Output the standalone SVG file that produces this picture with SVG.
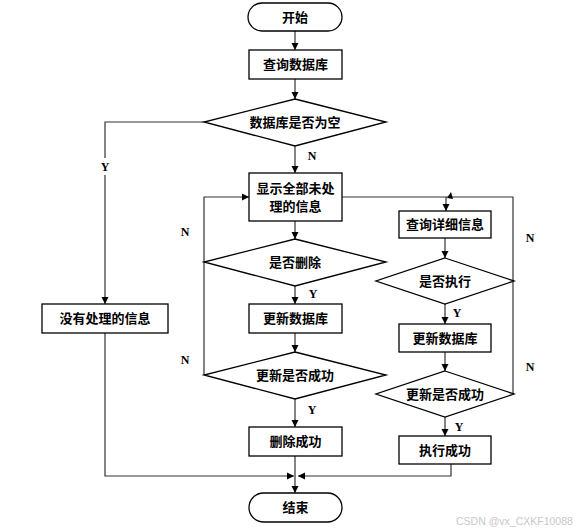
<svg xmlns="http://www.w3.org/2000/svg" width="575" height="532" viewBox="0 0 575 532">
<defs>
<style>
.box{fill:#fff;stroke:#000;stroke-width:1.3}
.t{font-family:"Liberation Serif","Noto Sans CJK SC",serif;font-size:13px;font-weight:bold;fill:#000;text-anchor:middle;dominant-baseline:central}
.lb{font-family:"Liberation Serif","Noto Sans CJK SC",serif;font-size:12px;font-weight:bold;fill:#000;text-anchor:middle;dominant-baseline:central}
.c{fill:none;stroke:#333;stroke-width:1.2}
.wm{font-family:"Liberation Sans",sans-serif;font-size:10.5px;fill:#c8c8c8}
</style>
<marker id="a" markerWidth="8" markerHeight="8" refX="7" refY="4" orient="auto" markerUnits="userSpaceOnUse">
<path d="M0,0.5 L7,4 L0,7.5 Z" fill="#000"/>
</marker>
</defs>
<rect width="575" height="532" fill="#fff"/>

<g id="connectors">
<path class="c" d="M295,31 V50" marker-end="url(#a)"/>
<path class="c" d="M295,79 V99" marker-end="url(#a)"/>
<path class="c" d="M295,146 V173" marker-end="url(#a)"/>
<path class="c" d="M204,122 H105 V158"/>
<path class="c" d="M105,175 V304" marker-end="url(#a)"/>
<path class="c" d="M105,333 V476 H294" marker-end="url(#a)"/>
<path class="c" d="M295,221 V239" marker-end="url(#a)"/>
<path class="c" d="M295,286 V304" marker-end="url(#a)"/>
<path class="c" d="M295,333 V352" marker-end="url(#a)"/>
<path class="c" d="M295,399 V427" marker-end="url(#a)"/>
<path class="c" d="M295,456 V493" marker-end="url(#a)"/>
<path class="c" d="M204,375 V197 H249" marker-end="url(#a)"/>
<path class="c" d="M342,197 H513 V394"/>
<path class="c" d="M446,197 V211" marker-end="url(#a)"/>
<path d="M447,198 L451,192 L453,199 Z" fill="#000"/>
<path class="c" d="M445,238 V258" marker-end="url(#a)"/>
<path class="c" d="M445,304 V324" marker-end="url(#a)"/>
<path class="c" d="M445,352 V371" marker-end="url(#a)"/>
<path class="c" d="M445,417 V436" marker-end="url(#a)"/>
<path class="c" d="M451,464 V476 H298" marker-end="url(#a)"/>
<text class="lb" x="312" y="156">N</text>
<text class="lb" x="105" y="167">Y</text>
<text class="lb" x="313" y="294">Y</text>
<text class="lb" x="312" y="410">Y</text>
<text class="lb" x="185" y="232">N</text>
<text class="lb" x="185" y="360">N</text>
<text class="lb" x="457" y="313">Y</text>
<text class="lb" x="459" y="427">Y</text>
<text class="lb" x="530" y="238">N</text>
<text class="lb" x="530" y="367">N</text>
</g>

<g id="start"><rect class="box" x="248" y="3" width="94" height="28" rx="14"/><text class="t" x="295" y="17">开始</text></g>
<g id="query"><rect class="box" x="249" y="50" width="93" height="29"/><text class="t" x="295.5" y="64.5">查询数据库</text></g>
<g id="isEmpty"><polygon class="box" points="295,99 386,122 295,146 204,122"/><text class="t" x="295" y="122">数据库是否为空</text></g>
<g id="showAll"><rect class="box" x="249" y="173" width="93" height="48"/><text class="t" x="295.5" y="188">显示全部未处</text><text class="t" x="295.5" y="206">理的信息</text></g>
<g id="isDelete"><polygon class="box" points="295,239 386,262 295,286 204,262"/><text class="t" x="295" y="262">是否删除</text></g>
<g id="updateL"><rect class="box" x="249" y="304" width="93" height="29"/><text class="t" x="295.5" y="318.5">更新数据库</text></g>
<g id="successL"><polygon class="box" points="295,352 386,375 295,399 204,375"/><text class="t" x="295" y="375">更新是否成功</text></g>
<g id="deleted"><rect class="box" x="249" y="427" width="93" height="29"/><text class="t" x="295.5" y="441.5">删除成功</text></g>
<g id="end"><rect class="box" x="249" y="493" width="93" height="29" rx="14.5"/><text class="t" x="295.5" y="507.5">结束</text></g>
<g id="noInfo"><rect class="box" x="42" y="304" width="126" height="29"/><text class="t" x="105" y="318.5">没有处理的信息</text></g>
<g id="detail"><rect class="box" x="399" y="211" width="92" height="27"/><text class="t" x="445" y="224.5">查询详细信息</text></g>
<g id="isExec"><polygon class="box" points="445,258 514,281 445,304 376,281"/><text class="t" x="445" y="281">是否执行</text></g>
<g id="updateR"><rect class="box" x="399" y="324" width="92" height="28"/><text class="t" x="445" y="338">更新数据库</text></g>
<g id="successR"><polygon class="box" points="445,371 514,394 445,417 376,394"/><text class="t" x="445" y="394">更新是否成功</text></g>
<g id="executed"><rect class="box" x="399" y="436" width="92" height="28"/><text class="t" x="445" y="450">执行成功</text></g>

<text class="wm" x="456" y="525">CSDN @vx_CXKF10088</text>
</svg>
